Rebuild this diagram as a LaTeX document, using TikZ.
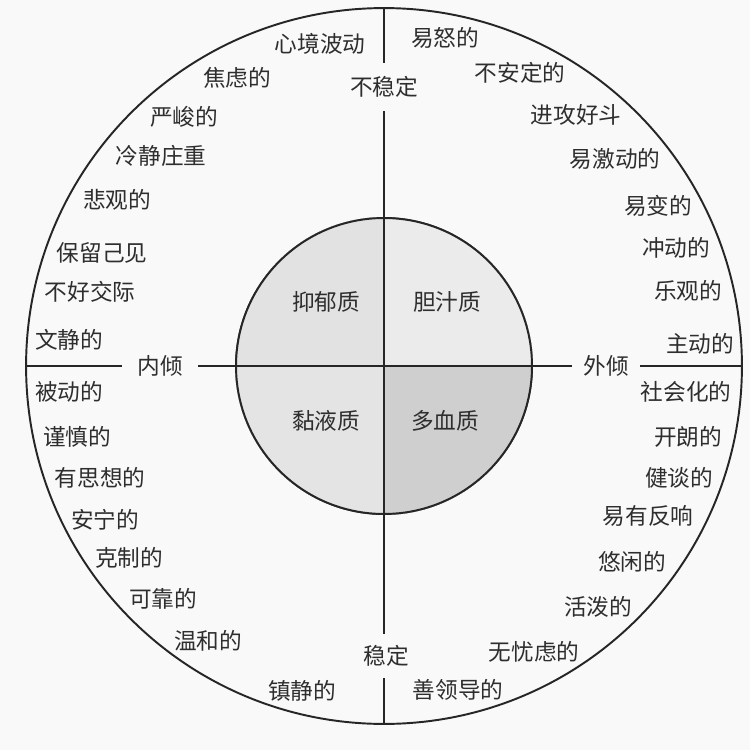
\documentclass[tikz,border=0pt]{standalone}
\usepackage{fontspec}
\newfontfamily\cjk{Noto Sans CJK SC}
\usetikzlibrary{positioning}
\definecolor{tpbg}{HTML}{F9F9F9}
\definecolor{tpink}{HTML}{262626}
\definecolor{tptext}{HTML}{2E2E2E}
\definecolor{tpmel}{HTML}{E2E2E2}
\definecolor{tpcho}{HTML}{EBEBEB}
\definecolor{tpphl}{HTML}{E4E4E4}
\definecolor{tpsan}{HTML}{CFCFCF}

\begin{document}
\begin{tikzpicture}[
  x=0.02cm, y=-0.02cm,
  ring/.style    = {circle, draw=tpink, line width=1.1pt, inner sep=0pt},
  trait/.style   = {font=\cjk\fontsize{12.9}{15}\selectfont, text=tptext, inner sep=0pt},
  axislab/.style = {trait, minimum width=1.45cm, minimum height=0.95cm},
  temper/.style  = {trait},
  axis/.style    = {draw=tpink, line width=1.1pt},
]
\fill[tpbg] (0,0) rectangle (750,750);
\useasboundingbox (0,0) rectangle (750,750);

% circles
\node[ring, minimum size=14.32cm] (outer) at (384,366) {};
\node[ring, minimum size=5.92cm]  (inner) at (384,366) {};

% four temperaments
\fill[tpmel] (inner.center) -- (inner.north) arc[start angle=90,  end angle=180, radius=2.96cm] -- cycle;
\fill[tpcho] (inner.center) -- (inner.east)  arc[start angle=0,   end angle=90,  radius=2.96cm] -- cycle;
\fill[tpphl] (inner.center) -- (inner.west)  arc[start angle=180, end angle=270, radius=2.96cm] -- cycle;
\fill[tpsan] (inner.center) -- (inner.south) arc[start angle=270, end angle=360, radius=2.96cm] -- cycle;
\node[ring, minimum size=5.92cm] at (inner.center) {};

\node[temper] (mel) at (326,302) {抑郁质};
\node[temper] (cho) at (447,302) {胆汁质};
\node[temper] (phl) at (326,421) {黏液质};
\node[temper] (san) at (445,421) {多血质};

% axes
\node[axislab] (unstable) at (384,87)  {不稳定};
\node[axislab, minimum height=0.88cm] (stable) at (386,656) {稳定};
\node[axislab, minimum width=1.52cm] (intro) at (160,366) {内倾};
\node[axislab, minimum width=1.36cm] (extro) at (606,366) {外倾};

\draw[axis] (outer.north) -- (unstable.north);
\draw[axis] (unstable.south) -- (stable.north -| unstable.south);
\draw[axis] (stable.south -| unstable.south) -- (outer.south);
\draw[axis] (outer.west) -- (intro.west);
\draw[axis] (intro.east) -- (extro.west);
\draw[axis] (extro.east) -- (outer.east);

% upper left
\node[trait] (ul1) at (320,44)  {心境波动};
\node[trait] (ul2) at (237,78)  {焦虑的};
\node[trait] (ul3) at (184,117) {严峻的};
\node[trait] (ul4) at (161,156) {冷静庄重};
\node[trait] (ul5) at (117,200) {悲观的};
\node[trait] (ul6) at (102,253) {保留己见};
\node[trait] (ul7) at (90,292)  {不好交际};
\node[trait] (ul8) at (69,340)  {文静的};

% upper right
\node[trait] (ur1) at (445,38)  {易怒的};
\node[trait] (ur2) at (520,73)  {不安定的};
\node[trait] (ur3) at (576,115) {进攻好斗};
\node[trait] (ur4) at (615,159) {易激动的};
\node[trait] (ur5) at (658,206) {易变的};
\node[trait] (ur6) at (676,248) {冲动的};
\node[trait] (ur7) at (688,291) {乐观的};
\node[trait] (ur8) at (700,344) {主动的};

% lower left
\node[trait] (ll1) at (69,392)  {被动的};
\node[trait] (ll2) at (77,437)  {谨慎的};
\node[trait] (ll3) at (100,478) {有思想的};
\node[trait] (ll4) at (105,520) {安宁的};
\node[trait] (ll5) at (129,558) {克制的};
\node[trait] (ll6) at (163,599) {可靠的};
\node[trait] (ll7) at (208,641) {温和的};
\node[trait] (ll8) at (302,691) {镇静的};

% lower right
\node[trait] (lr1) at (686,392) {社会化的};
\node[trait] (lr2) at (688,437) {开朗的};
\node[trait] (lr3) at (679,478) {健谈的};
\node[trait] (lr4) at (648,516) {易有反响};
\node[trait] (lr5) at (632,562) {悠闲的};
\node[trait] (lr6) at (598,607) {活泼的};
\node[trait] (lr7) at (534,652) {无忧虑的};
\node[trait] (lr8) at (458,690) {善领导的};
\end{tikzpicture}
\end{document}
